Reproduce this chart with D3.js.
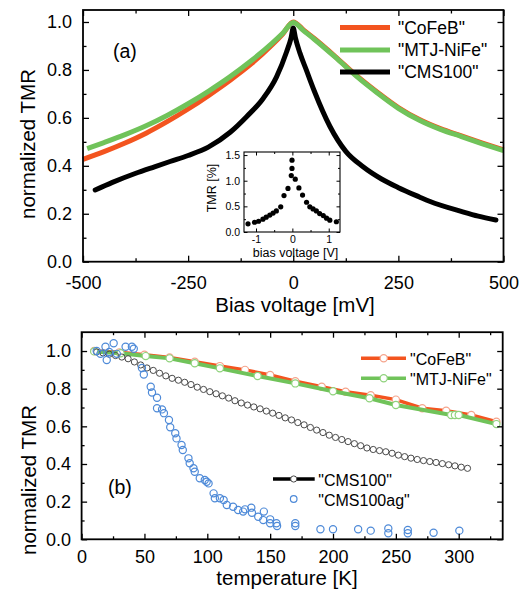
<!DOCTYPE html>
<html>
<head>
<meta charset="utf-8">
<script src="https://cdn.jsdelivr.net/npm/d3@7"></script>
<style>
  body { margin: 0; background: #fff; }
  svg { display: block; font-family: Arial, "Liberation Sans", sans-serif; }
</style>
</head>
<body>
<svg id="chart" width="526" height="595"></svg>
<script>
// ---- panel (a): normalized TMR vs bias voltage [mV]
var biasCoFeB = [-500, -450, -400, -350, -300, -250, -200, -150, -100, -50, -25, 0, 25, 50, 100, 150, 200, 250, 300, 350, 400, 450, 500];
var tmrCoFeB  = [0.427, 0.459, 0.495, 0.536, 0.584, 0.637, 0.695, 0.757, 0.825, 0.905, 0.95, 1.0, 0.966, 0.931, 0.856, 0.777, 0.707, 0.643, 0.593, 0.555, 0.525, 0.495, 0.466];

var biasNiFe = [-490, -450, -400, -350, -300, -250, -200, -150, -100, -50, -25, 0, 25, 50, 100, 150, 200, 250, 300, 350, 400, 450, 500];
var tmrNiFe  = [0.472, 0.497, 0.53, 0.567, 0.61, 0.659, 0.713, 0.772, 0.838, 0.912, 0.953, 0.998, 0.963, 0.928, 0.853, 0.774, 0.704, 0.64, 0.59, 0.552, 0.522, 0.492, 0.463];

var biasCMS = [-471, -430, -376, -330, -293, -250, -202, -150, -111, -72, -40, -16, -5, 0, 5, 16, 31, 50, 87, 125, 166, 210, 249, 300, 324, 403, 440, 482];
var tmrCMS  = [0.299, 0.331, 0.368, 0.396, 0.418, 0.443, 0.478, 0.54, 0.605, 0.68, 0.77, 0.875, 0.935, 0.975, 0.935, 0.87, 0.80, 0.712, 0.565, 0.46, 0.396, 0.345, 0.31, 0.27, 0.252, 0.208, 0.19, 0.174];

// inset: TMR [%] vs bias voltage [V]
var insetV   = [-1.22, -1.04, -0.93, -0.81, -0.72, -0.62, -0.53, -0.44, -0.32, -0.23, -0.12, -0.03, -0.01, -0.01, 0.08, 0.18, 0.28, 0.39, 0.48, 0.57, 0.66, 0.75, 0.85, 0.94, 1.03, 1.21];
var insetTMR = [0.16, 0.19, 0.21, 0.25, 0.29, 0.33, 0.37, 0.41, 0.49, 0.71, 0.85, 1.10, 1.24, 1.40, 1.03, 0.86, 0.72, 0.58, 0.49, 0.45, 0.41, 0.36, 0.32, 0.27, 0.23, 0.20];

// ---- panel (b): normalized TMR vs temperature [K]
var tempCoFeB = [10, 30, 50, 70, 90, 110, 130, 150, 170, 191, 210, 230, 250, 271, 290, 310, 330];
var tTmrCoFeB = [1.0, 0.993, 0.98, 0.966, 0.943, 0.92, 0.9, 0.873, 0.84, 0.81, 0.784, 0.765, 0.742, 0.696, 0.683, 0.66, 0.625];

var tempNiFe = [10, 31, 51, 70, 90, 110, 140, 170, 200, 229, 250, 294, 297, 300, 330];
var tTmrNiFe = [0.998, 0.988, 0.973, 0.961, 0.935, 0.908, 0.867, 0.828, 0.786, 0.749, 0.713, 0.66, 0.66, 0.66, 0.612];

var tempCMS = [12, 17, 22, 27, 32, 37, 42, 47, 52, 57, 62, 67, 72, 77, 82, 87, 92, 97, 102, 107, 112, 117, 122, 127, 132, 137, 142, 147, 152, 157,
               162, 167, 172, 177, 182, 187, 192, 197, 202, 207, 212, 217, 222, 227, 232, 237, 242, 247, 252, 257, 262, 267, 272, 277, 282, 287, 292, 297, 302, 307];
var tTmrCMS = [0.995, 0.99, 0.983, 0.976, 0.968, 0.959, 0.942, 0.926, 0.91, 0.897, 0.882, 0.868, 0.855, 0.845, 0.834, 0.822, 0.808, 0.796, 0.784, 0.773,
               0.762, 0.75, 0.736, 0.724, 0.713, 0.703, 0.693, 0.681, 0.67, 0.658, 0.645, 0.634, 0.62, 0.608, 0.594, 0.58, 0.567, 0.553, 0.541, 0.53,
               0.519, 0.508, 0.497, 0.485, 0.477, 0.471, 0.465, 0.457, 0.447, 0.439, 0.431, 0.424, 0.418, 0.413, 0.408, 0.402, 0.396, 0.39, 0.383, 0.377];

var tempAg = [12, 15, 19, 20, 22, 25.5, 28, 35, 40, 41.5, 48, 49.5, 55, 56, 60, 60, 64, 65.5, 69.5, 70.5, 74.5, 75.5, 79.5, 80.5, 85, 86, 89, 90,
              94, 98, 99.5, 101, 105, 106, 110, 113, 115.5, 120.5, 124.5, 128.5, 130, 135, 135.5, 140.5, 145, 144.5, 150, 150, 155, 155.5,
              170, 170, 190, 200, 220, 230, 244, 244, 259.5, 259.5, 280, 300.5];
var tTmrAg = [1.0, 0.985, 1.023, 0.952, 0.995, 1.041, 0.985, 1.023, 1.023, 1.012, 0.91, 0.875, 0.81, 0.78, 0.752, 0.696, 0.69, 0.67, 0.634, 0.595,
              0.563, 0.536, 0.501, 0.474, 0.43, 0.404, 0.377, 0.359, 0.324, 0.315, 0.306, 0.297, 0.244, 0.218, 0.218, 0.209, 0.182, 0.173,
              0.156, 0.147, 0.159, 0.168, 0.141, 0.12, 0.147, 0.102, 0.106, 0.085, 0.085, 0.071, 0.085, 0.071, 0.053, 0.053, 0.053, 0.046,
              0.058, 0.032, 0.049, 0.032, 0.035, 0.046];

var orange = "#f3541f", green = "#70c35a", blue = "#4e8ad8";

var svg = d3.select("#chart");

function zip(a, b) { return a.map(function(d, i) { return [d, b[i]]; }); }

// axes on all four sides, ticks pointing inward, plus minor ticks
function drawFrame(g, x, y, o) {
  var x0 = x.range()[0], x1 = x.range()[1], y0 = y.range()[0], y1 = y.range()[1];
  var sides = [
    [d3.axisBottom(x), "translate(0," + y0 + ")", o.xMajor, o.xMinor, o.xFmt, o.xPad],
    [d3.axisTop(x), "translate(0," + y1 + ")", o.xMajor, o.xMinor, null, 0],
    [d3.axisLeft(y), "translate(" + x0 + ",0)", o.yMajor, o.yMinor, o.yFmt, o.yPad],
    [d3.axisRight(y), "translate(" + x1 + ",0)", o.yMajor, o.yMinor, null, 0]
  ];
  sides.forEach(function(s) {
    var ax = s[0].tickValues(s[2]).tickSize(-o.major).tickSizeOuter(0).tickPadding(s[5])
      .tickFormat(s[4] ? s[4] : function() { return ""; });
    var gg = g.append("g").attr("transform", s[1]).call(ax);
    gg.attr("font-size", o.font).attr("font-family", null);
    gg.select(".domain").remove();
    gg.selectAll(".tick line").attr("stroke", "#000").attr("stroke-width", o.tw);
    gg.selectAll(".tick text").attr("fill", "#000");
    var mi = g.append("g").attr("transform", s[1])
      .call(s[0].tickValues(s[3]).tickSize(-o.minor).tickFormat(function() { return ""; }));
    mi.select(".domain").remove();
    mi.selectAll(".tick line").attr("stroke", "#000").attr("stroke-width", o.tw);
  });
  g.append("rect").attr("x", x0).attr("y", y1).attr("width", x1 - x0).attr("height", y0 - y1)
    .attr("fill", "none").attr("stroke", "#000").attr("stroke-width", o.sw);
}

var fmt1 = function(d) { return d.toFixed(1); };
var fmtInt = function(d) { return String(d); };

// ================= panel (a)
var xa = d3.scaleLinear().domain([-500, 500]).range([83, 503.5]);
var ya = d3.scaleLinear().domain([0, 1.05]).range([261.7, 10]);
var ga = svg.append("g");

var lineA = d3.line().x(function(d) { return xa(d[0]); }).y(function(d) { return ya(d[1]); }).curve(d3.curveMonotoneX);

ga.append("path").datum(zip(biasCoFeB, tmrCoFeB)).attr("d", lineA)
  .attr("fill", "none").attr("stroke", orange).attr("stroke-width", 5);
ga.append("path").datum(zip(biasNiFe, tmrNiFe)).attr("d", lineA)
  .attr("fill", "none").attr("stroke", green).attr("stroke-width", 5);
ga.append("path").datum(zip(biasCMS, tmrCMS)).attr("d", lineA)
  .attr("fill", "none").attr("stroke", "#000").attr("stroke-width", 5).attr("stroke-linecap", "round");

drawFrame(ga, xa, ya, {
  xMajor: [-500, -250, 0, 250, 500], xMinor: [-375, -125, 125, 375], xFmt: fmtInt, xPad: 15,
  yMajor: [0, 0.2, 0.4, 0.6, 0.8, 1.0], yMinor: [0.1, 0.3, 0.5, 0.7, 0.9], yFmt: fmt1, yPad: 11,
  major: 6, minor: 3.5, font: 18, tw: 1.3, sw: 1.8
});

ga.append("text").attr("x", 113).attr("y", 58).attr("font-size", 19.5).text("(a)");
ga.append("text").attr("x", 295).attr("y", 312).attr("text-anchor", "middle").attr("font-size", 20.5).text("Bias voltage [mV]");
ga.append("text").attr("transform", "translate(35,144) rotate(-90)").attr("text-anchor", "middle")
  .attr("font-size", 20.5).text("normalized TMR");

// legend (a)
var legA = [["\"CoFeB\"", orange, 27.5], ["\"MTJ-NiFe\"", green, 50], ["\"CMS100\"", "#000", 72]];
legA.forEach(function(l) {
  ga.append("line").attr("x1", 340).attr("x2", 390).attr("y1", l[2]).attr("y2", l[2])
    .attr("stroke", l[1]).attr("stroke-width", 5);
  ga.append("text").attr("x", 398).attr("y", l[2] + 6).attr("font-size", 17.5).text(l[0]);
});

// inset
var xi = d3.scaleLinear().domain([-1.33, 1.31]).range([244, 340]);
var yi = d3.scaleLinear().domain([0, 1.56]).range([232, 152]);
var gi = svg.append("g");
gi.append("rect").attr("x", 244).attr("y", 152).attr("width", 96).attr("height", 80).attr("fill", "#fff");
gi.selectAll("circle").data(zip(insetV, insetTMR)).enter().append("circle")
  .attr("cx", function(d) { return xi(d[0]); }).attr("cy", function(d) { return yi(d[1]); })
  .attr("r", 2.6).attr("fill", "#000");
drawFrame(gi, xi, yi, {
  xMajor: [-1, 0, 1], xMinor: [-0.5, 0.5], xFmt: fmtInt, xPad: 4,
  yMajor: [0, 0.5, 1.0, 1.5], yMinor: [0.25, 0.75, 1.25], yFmt: fmt1, yPad: 4,
  major: 3.5, minor: 2, font: 10.5, tw: 1, sw: 1.1
});
gi.append("text").attr("x", 295.5).attr("y", 256.5).attr("text-anchor", "middle").attr("font-size", 12.5).text("bias voltage [V]");
gi.append("text").attr("transform", "translate(216,188) rotate(-90)").attr("text-anchor", "middle")
  .attr("font-size", 12.5).text("TMR [%]");

// ================= panel (b)
var xb = d3.scaleLinear().domain([0, 335]).range([81.6, 502.7]);
var yb = d3.scaleLinear().domain([0, 1.1]).range([539.3, 332.2]);
var gb = svg.append("g");

var lineB = d3.line().x(function(d) { return xb(d[0]); }).y(function(d) { return yb(d[1]); });

gb.append("path").datum(zip(tempCoFeB, tTmrCoFeB)).attr("d", lineB)
  .attr("fill", "none").attr("stroke", orange).attr("stroke-width", 3.5);
gb.append("g").selectAll("circle").data(zip(tempCoFeB, tTmrCoFeB)).enter().append("circle")
  .attr("cx", function(d) { return xb(d[0]); }).attr("cy", function(d) { return yb(d[1]); })
  .attr("r", 3.6).attr("fill", "#fff").attr("stroke", "#f5a48c").attr("stroke-width", 1.2);
gb.append("path").datum(zip(tempNiFe, tTmrNiFe)).attr("d", lineB)
  .attr("fill", "none").attr("stroke", green).attr("stroke-width", 4);
gb.append("g").selectAll("circle").data(zip(tempNiFe, tTmrNiFe)).enter().append("circle")
  .attr("cx", function(d) { return xb(d[0]); }).attr("cy", function(d) { return yb(d[1]); })
  .attr("r", 3.6).attr("fill", "#fff").attr("stroke", "#8fd27c").attr("stroke-width", 1.2);

gb.append("g").selectAll("circle").data(zip(tempCMS, tTmrCMS)).enter().append("circle")
  .attr("cx", function(d) { return xb(d[0]); }).attr("cy", function(d) { return yb(d[1]); })
  .attr("r", 3.1).attr("fill", "none").attr("stroke", "#4a4a4a").attr("stroke-width", 1);
gb.append("g").selectAll("circle").data(zip(tempAg, tTmrAg)).enter().append("circle")
  .attr("cx", function(d) { return xb(d[0]); }).attr("cy", function(d) { return yb(d[1]); })
  .attr("r", 3.6).attr("fill", "none").attr("stroke", blue).attr("stroke-width", 1.2);

drawFrame(gb, xb, yb, {
  xMajor: [0, 50, 100, 150, 200, 250, 300], xMinor: [25, 75, 125, 175, 225, 275, 325], xFmt: fmtInt, xPad: 11,
  yMajor: [0, 0.2, 0.4, 0.6, 0.8, 1.0], yMinor: [0.1, 0.3, 0.5, 0.7, 0.9], yFmt: fmt1, yPad: 10.5,
  major: 5.5, minor: 3, font: 18, tw: 1.3, sw: 1.8
});

gb.append("text").attr("x", 108).attr("y", 494).attr("font-size", 19.5).text("(b)");
gb.append("text").attr("x", 287).attr("y", 585).attr("text-anchor", "middle").attr("font-size", 20.5).text("temperature [K]");
gb.append("text").attr("transform", "translate(36,480) rotate(-90)").attr("text-anchor", "middle")
  .attr("font-size", 20.5).text("normalized TMR");

// legend (b)
var legB = [["\"CoFeB\"", orange, "#f5a48c", 358.3], ["\"MTJ-NiFe\"", green, "#8fd27c", 378.3]];
legB.forEach(function(l) {
  gb.append("line").attr("x1", 361).attr("x2", 406).attr("y1", l[3]).attr("y2", l[3])
    .attr("stroke", l[1]).attr("stroke-width", 3.5);
  gb.append("circle").attr("cx", 383.7).attr("cy", l[3]).attr("r", 3.6)
    .attr("fill", "#fff").attr("stroke", l[2]).attr("stroke-width", 1.2);
  gb.append("text").attr("x", 410).attr("y", l[3] + 6.5).attr("font-size", 16).text(l[0]);
});
gb.append("line").attr("x1", 273).attr("x2", 314.7).attr("y1", 479).attr("y2", 479)
  .attr("stroke", "#000").attr("stroke-width", 3.5);
gb.append("circle").attr("cx", 293.7).attr("cy", 479).attr("r", 3.1)
  .attr("fill", "#fff").attr("stroke", "#4a4a4a").attr("stroke-width", 1);
gb.append("text").attr("x", 318.3).attr("y", 485.5).attr("font-size", 16).text("\"CMS100\"");
gb.append("circle").attr("cx", 293.7).attr("cy", 499).attr("r", 3.3)
  .attr("fill", "none").attr("stroke", blue).attr("stroke-width", 1.2);
gb.append("text").attr("x", 318.3).attr("y", 505.5).attr("font-size", 16).text("\"CMS100ag\"");
</script>
</body>
</html>
